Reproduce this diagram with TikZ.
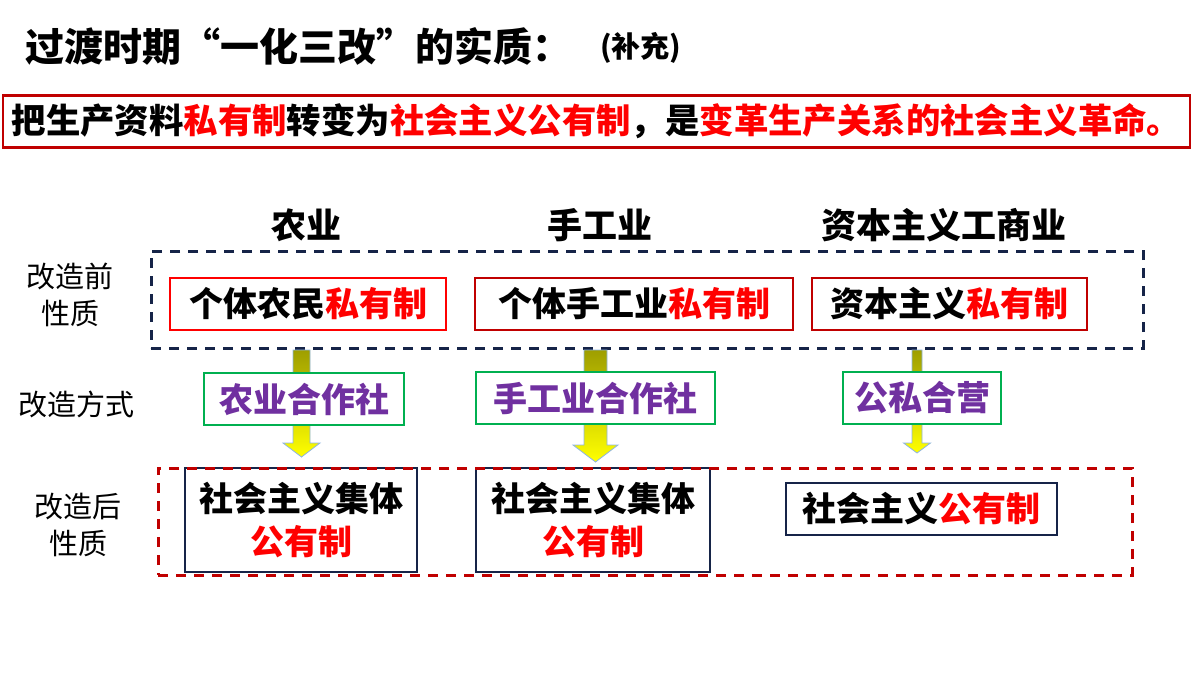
\documentclass[tikz,border=0pt]{standalone}
\usepackage{fontspec}
\setmainfont{Noto Sans CJK SC}
\usepackage{tikz}
\usetikzlibrary{positioning}
\usepackage{xcolor}
\definecolor{PlanRed}{RGB}{255,0,0}
\definecolor{PlanDarkRed}{RGB}{192,0,0}
\definecolor{PlanNavy}{RGB}{22,36,72}
\definecolor{PlanGreen}{RGB}{0,176,80}
\definecolor{PlanPurple}{RGB}{112,48,160}
\definecolor{PlanOlive}{RGB}{158,158,0}
\definecolor{PlanYellow}{RGB}{255,255,0}
\definecolor{PlanEdge}{RGB}{141,180,226}

% x, shaft half width, head half width, head start, tip
\newcommand{\blockarr}[5]{%
  \path[bigarrow] (#1-#2,350) -- (#1+#2,350) -- (#1+#2,#4) -- (#1+#3,#4)
    -- (#1,#5) -- (#1-#3,#4) -- (#1-#2,#4) -- cycle;}

\begin{document}
\begin{tikzpicture}[
x=1pt,y=-1pt,
big/.style={font=\fontsize{34pt}{43pt}\selectfont\bfseries},
head/.style={big,font=\fontsize{35pt}{40pt}\selectfont\bfseries},
side/.style={align=center,font=\fontsize{29pt}{37pt}\selectfont},
oldbox/.style={
  big,
  rectangle,
  draw=PlanDarkRed,
  line width=2.5pt,
  fill=white,
  minimum height=52pt,
  inner sep=0pt
},
waybox/.style={oldbox,draw=PlanGreen,text=PlanPurple},
newbox/.style={oldbox,draw=PlanNavy,align=center},
frame/.style={rectangle,line width=3pt,dash pattern=on 10pt off 8pt,inner sep=0pt},
bigarrow/.style={draw=PlanEdge,line width=0.8pt,top color=PlanOlive,bottom color=PlanYellow}
]
\useasboundingbox (0,0) rectangle (1200,675);

% title
\node[anchor=west,inner sep=0pt,font=\fontsize{39pt}{44pt}\selectfont\bfseries] (title) at (25,46)
  {过渡时期\makebox[1em][r]{“}一化三改\makebox[1em][l]{”}的实质：};
\node[anchor=west,inner sep=0pt,font=\fontsize{29pt}{34pt}\selectfont\bfseries] (note) at (600,48) {(补充)};
\node[oldbox,minimum width=1187pt,font=\fontsize{34.4pt}{40pt}\selectfont\bfseries] (gist) at (596.5,121.5)
  {把生产资料\textcolor{PlanRed}{私有制}转变为\textcolor{PlanRed}{社会主义公有制}，是\textcolor{PlanRed}{变革生产关系的社会主义革命。}};

% column heads
\node[head] (farm) at (306,225) {农业};
\node[head] (craft) at (600,225) {手工业};
\node[head] (trade) at (944,225) {资本主义工商业};

% row labels
\node[side] (before) at (70,295) {改造前\\性质};
\node[side] (way) at (77,404) {改造方式};
\node[side] (after) at (78,525) {改造后\\性质};

% before
\node[frame,draw=PlanNavy,minimum width=992pt,minimum height=97pt] (pre) at (647,299.5) {};
\node[oldbox,draw=PlanRed,minimum width=276pt] (farmold) at (308,304) {个体农民\textcolor{PlanRed}{私有制}};
\node[oldbox,minimum width=318pt] (craftold) at (634,304) {个体手工业\textcolor{PlanRed}{私有制}};
\node[oldbox,minimum width=275pt] (tradeold) at (949.5,304) {资本主义\textcolor{PlanRed}{私有制}};

% arrows
\blockarr{301.5}{8.5}{18.5}{443}{457}
\blockarr{595.5}{11.5}{22.5}{445}{462}
\blockarr{917}{5}{13.5}{443}{453}

% ways
\node[waybox,minimum width=200pt] (farmway) at (304,399) {农业合作社};
\node[waybox,minimum width=239pt] (craftway) at (595.5,398) {手工业合作社};
\node[waybox,minimum width=158pt] (tradeway) at (922,398) {公私合营};

% after
\node[newbox,minimum width=232pt,minimum height=104pt] (farmnew) at (301,520) {社会主义集体\\\textcolor{PlanRed}{公有制}};
\node[newbox,minimum width=234pt,minimum height=104pt] (craftnew) at (593,520) {社会主义集体\\\textcolor{PlanRed}{公有制}};
\node[newbox,minimum width=271pt] (tradenew) at (921.5,509) {社会主义\textcolor{PlanRed}{公有制}};
\node[frame,draw=PlanDarkRed,minimum width=974pt,minimum height=107pt] (post) at (645,521.5) {};
\end{tikzpicture}
\end{document}
